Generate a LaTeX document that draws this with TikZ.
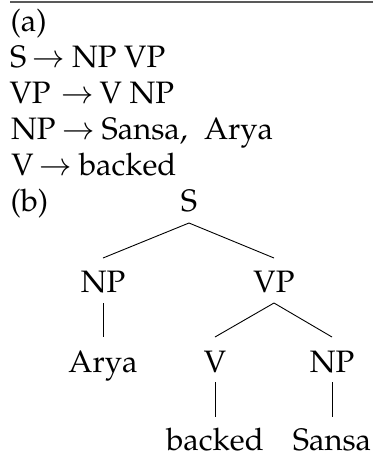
\documentclass[tikz,border=0pt]{standalone}
\usepackage[T1]{fontenc}
\usepackage{mathpazo}
\begin{document}
\begin{tikzpicture}[x=1pt,y=-1pt,
  txt/.style={inner sep=0pt, outer sep=0pt, font=\fontsize{31}{36}\selectfont},
  line/.style={anchor=base west, txt},
  arr/.style={anchor=base, txt},
  tnode/.style={anchor=base, txt},
  edge/.style={line width=0.9pt, black}]
\useasboundingbox (0,0) rectangle (373,456);
\fill[white] (0,0) rectangle (373,456);
\coordinate (rl) at (10,2);
\coordinate (rr) at (373,2);
\draw[line width=1.4pt, black!65] (rl) -- (rr);
\node[line] (la) at (10.5,31) {(a)};
% S -> NP VP
\node[line] (l1a) at (10,67.5) {S};
\node[arr]  (l1b) at (49,67.5) {$\rightarrow$};
\node[line] (l1c) at (72,67.5) {NP VP};
% VP -> V NP
\node[line] (l2a) at (9.5,103.5) {VP};
\node[arr]  (l2b) at (77.5,103.5) {$\rightarrow$};
\node[line] (l2c) at (99.5,103.5) {V NP};
% NP -> Sansa, Arya
\node[line] (l3a) at (11,139) {NP};
\node[arr]  (l3b) at (79,139) {$\rightarrow$};
\node[line] (l3c) at (101.5,139) {Sansa,};
\node[line] (l3d) at (204,139) {Arya};
% V -> backed
\node[line] (l4a) at (11.5,175) {V};
\node[arr]  (l4b) at (56,175) {$\rightarrow$};
\node[line] (l4c) at (79,175) {backed};
\node[line] (lb) at (10.5,211) {(b)};
% tree
\node[tnode] (S) at (189,211) {S};
\node[tnode] (NP) at (103,292) {NP};
\node[tnode] (VP) at (274,292) {VP};
\node[tnode] (Arya) at (103,372) {Arya};
\node[tnode] (V) at (215,372) {V};
\node[tnode] (NPb) at (332,372) {NP};
\node[tnode] (backed) at (215,450) {backed};
\node[tnode] (Sansa) at (332,450) {Sansa};
\draw[edge] ([yshift=-12pt]S.base) -- ([yshift=34pt]NP.base);
\draw[edge] ([yshift=-12pt]S.base) -- ([yshift=34pt]VP.base);
\draw[edge] ([yshift=-11pt]NP.base) -- ([yshift=35pt]Arya.base);
\draw[edge] ([yshift=-11pt]VP.base) -- ([yshift=35pt]V.base);
\draw[edge] ([yshift=-11pt]VP.base) -- ([yshift=35pt]NPb.base);
\draw[edge] ([yshift=-10pt]V.base) -- ([yshift=33pt]backed.base);
\draw[edge] ([yshift=-10pt]NPb.base) -- ([yshift=33pt]Sansa.base);
\end{tikzpicture}
\end{document}
